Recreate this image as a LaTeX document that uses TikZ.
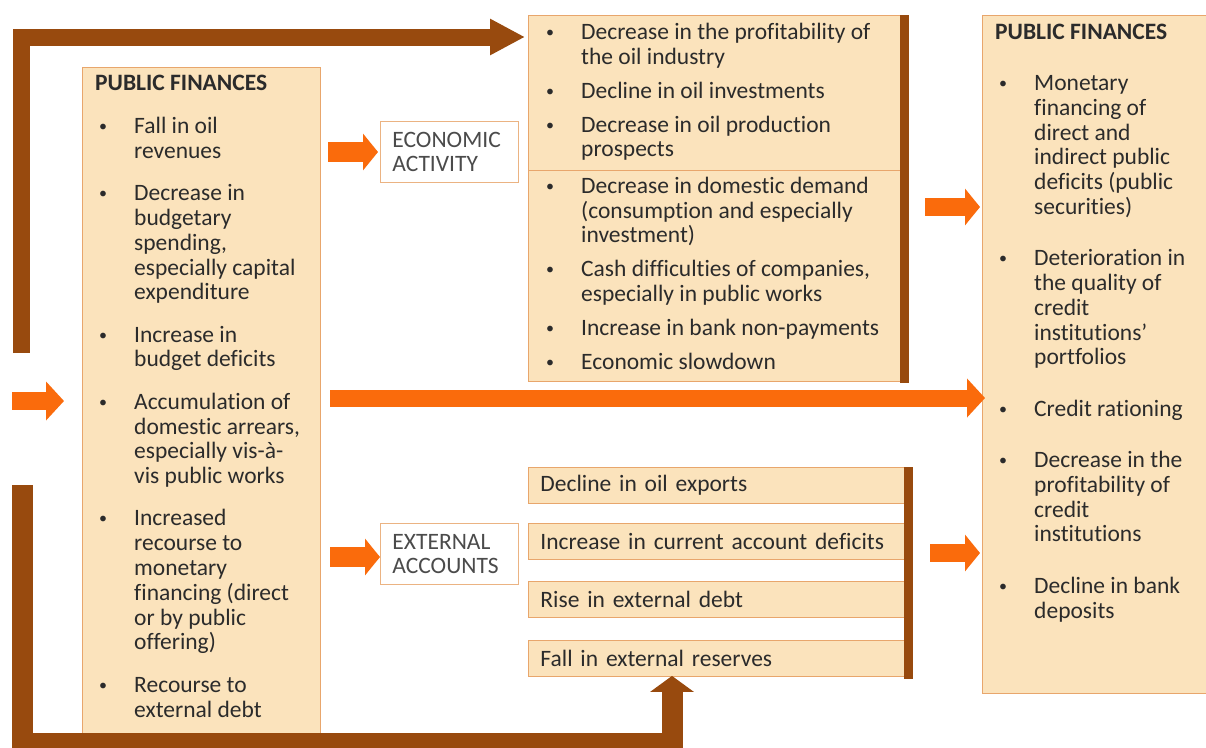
\documentclass[tikz,border=0pt]{standalone}
\usepackage{fontspec}
\setmainfont{Carlito}[Ligatures=CommonOff]
\usetikzlibrary{arrows.meta,positioning}
\definecolor{nbPeach}{HTML}{FBE3BC}
\definecolor{nbEdge}{HTML}{E8A66C}
\definecolor{nbBrown}{HTML}{984A0E}
\definecolor{nbOrange}{HTML}{FA6B0C}
\definecolor{nbInk}{HTML}{2B2B2B}
% bullet and hanging indent for the lists
\newcommand{\bul}{\makebox[39pt][l]{\hspace{4pt}\raisebox{2pt}{\fontsize{16}{16}\selectfont\textbullet}}}
\newcommand{\ind}{\hspace*{39pt}}
\tikzset{
  nb box/.style={draw=nbEdge, fill=nbPeach, line width=0.9pt, inner sep=0pt, anchor=north west},
  nb row/.style={nb box, minimum width=377pt, minimum height=36pt, text width=353pt, inner xsep=12pt,
    align=left, font=\fontsize{23.5}{24.5}\selectfont, text=nbInk},
  nb tag/.style={draw=nbEdge!85, fill=white, line width=0.9pt, anchor=north west, minimum width=138pt,
    minimum height=61pt, text width=114pt, inner xsep=12pt, align=left,
    font=\fontsize{23.5}{24.5}\selectfont, text=nbInk!85},
  % lists are placed by the baseline of their last line
  nb text/.style={text=nbInk, align=left, inner sep=0pt, anchor=base west},
  nb bar/.style={draw=nbBrown, line width=9pt},
  nb feed/.style={draw=nbBrown, line join=miter},
  nb push/.style={draw=nbOrange},
}

\begin{document}
\begin{tikzpicture}[x=1pt,y=-1pt]
  \clip (0,0) rectangle (1206,747);
  \fill[white] (0,0) rectangle (1206,747);

  % source box on the left
  \node[nb box, minimum width=238pt, minimum height=666pt] (pfIn) at (82,67) {};
  \node[nb text, font=\fontsize{23.5}{24.8}\selectfont] (pfInText) at (95,717) {%
    \textbf{PUBLIC FINANCES}\\[18pt]
    \bul Fall in oil\\ \ind revenues\\[17.5pt]
    \bul Decrease in\\ \ind budgetary\\ \ind spending,\\ \ind especially capital\\ \ind expenditure\\[17.5pt]
    \bul Increase in\\ \ind budget deficits\\[17.5pt]
    \bul Accumulation of\\ \ind domestic arrears,\\ \ind especially vis-à-\\ \ind vis public works\\[17.5pt]
    \bul Increased\\ \ind recourse to\\ \ind monetary\\ \ind financing (direct\\ \ind or by public\\ \ind offering)\\[17.5pt]
    \bul Recourse to\\ \ind external debt};

  % channel tags
  \node[nb tag] (econTag) at (380,121) {ECONOMIC\\ACTIVITY};
  \node[nb tag] (extTag) at (380,523) {EXTERNAL\\ACCOUNTS};

  % economic activity effects
  \node[nb box, minimum width=377pt, minimum height=366pt] (ecoList) at (528,15) {};
  \draw[nbEdge, line width=0.9pt] (ecoList.west |- 0,170) -- (ecoList.east |- 0,170);
  \node[nb text, font=\fontsize{23.5}{24.5}\selectfont] (ecoText) at (542,369) {%
    \bul Decrease in the profitability of\\ \ind the oil industry\\[9.5pt]
    \bul Decline in oil investments\\[9.5pt]
    \bul Decrease in oil production\\ \ind prospects\\[12.5pt]
    \bul Decrease in domestic demand\\ \ind (consumption and especially\\ \ind investment)\\[9.5pt]
    \bul Cash difficulties of companies,\\ \ind especially in public works\\[9.5pt]
    \bul Increase in bank non-payments\\[9.5pt]
    \bul Economic slowdown};
  \draw[nb bar] (904.5,15) -- (904.5,383);

  % external accounts effects
  \node[nb row] (oilExp) at (528,467) {Decline in oil exports};
  \node[nb row] (curDef) at (528,523) {Increase in current account deficits};
  \node[nb row] (extDebt) at (528,581) {Rise in external debt};
  \node[nb row] (extRes) at (528,640) {Fall in external reserves};
  \draw[nb bar] (oilExp.north east -| 908,0) -- ([yshift=-2pt]extRes.south east -| 908,0);

  % banking sector box on the right
  \node[nb box, minimum width=240pt, minimum height=678pt] (pfOut) at (982,15) {};
  \node[nb text, font=\fontsize{23.5}{24.8}\selectfont] (pfOutText) at (995,618) {%
    \textbf{PUBLIC FINANCES}\\[26.5pt]
    \bul Monetary\\ \ind financing of\\ \ind direct and\\ \ind indirect public\\ \ind deficits (public\\ \ind securities)\\[26.5pt]
    \bul Deterioration in\\ \ind the quality of\\ \ind credit\\ \ind institutions'\\ \ind portfolios\\[26.5pt]
    \bul Credit rationing\\[26.5pt]
    \bul Decrease in the\\ \ind profitability of\\ \ind credit\\ \ind institutions\\[26.5pt]
    \bul Decline in bank\\ \ind deposits};

  % orange push arrows
  \coordinate (shockIn) at (12,401);
  \coordinate (toEcon) at (328,152);
  \coordinate (toExt) at (330,557);
  \coordinate (toBanks) at (330,398);
  \coordinate (ecoOut) at (925,207);
  \coordinate (extOut) at (930,553);
  \draw[nb push, line width=18pt, -{Triangle[length=18pt,width=38pt]}] (shockIn) -- ([xshift=-18pt]pfIn.west |- shockIn);
  \draw[nb push, line width=20pt, -{Triangle[length=15pt,width=36pt]}] (toEcon) -- ([xshift=-2pt]econTag.west |- toEcon);
  \draw[nb push, line width=20pt, -{Triangle[length=15pt,width=36pt]}] (toExt) -- (extTag.west |- toExt);
  \draw[nb push, line width=17pt, -{Triangle[length=18pt,width=38pt]}] (toBanks) -- ([xshift=3pt]pfOut.west |- toBanks);
  \draw[nb push, line width=18pt, -{Triangle[length=15pt,width=36pt]}] (ecoOut) -- ([xshift=-2pt]pfOut.west |- ecoOut);
  \draw[nb push, line width=18pt, -{Triangle[length=15pt,width=36pt]}] (extOut) -- ([xshift=-2pt]pfOut.west |- extOut);

  % brown feedback loops
  \coordinate (loopTop) at (21,353);
  \coordinate (loopLow) at (22,485);
  \draw[nb feed, line width=17pt, -{Triangle[length=35pt,width=34pt]}] (loopTop) |- ([shift={(-3,22)}]ecoList.north west);
  \draw[nb feed, line width=21pt, -{Triangle[length=16pt,width=43pt]}] (loopLow) |- (672,743) -- ([xshift=144pt,yshift=1pt]extRes.south west);
\end{tikzpicture}
\end{document}
